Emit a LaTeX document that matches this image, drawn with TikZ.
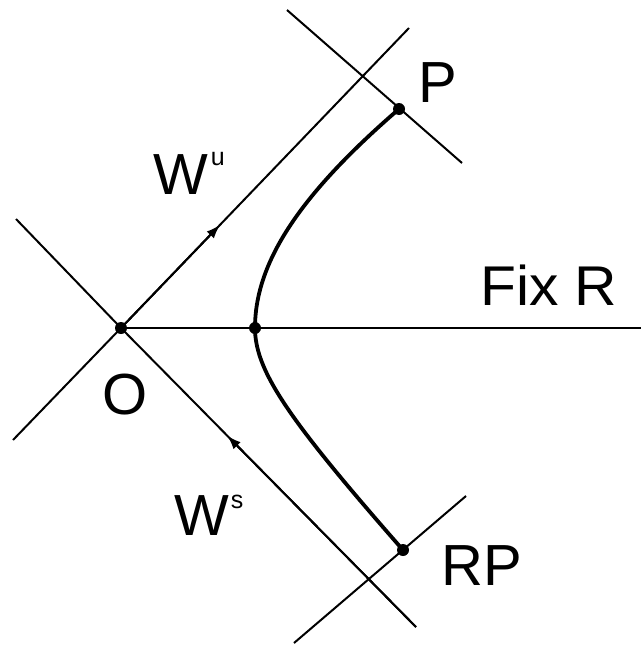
\documentclass[tikz,border=0pt]{standalone}
\usepackage{fontspec}
\setmainfont{Liberation Sans}
\usetikzlibrary{arrows.meta,calc}
\begin{document}
\begin{tikzpicture}[x=1pt,y=-1pt,
  thinline/.style={line width=2pt},
  curveline/.style={line width=3.8pt},
  dotmark/.style={circle,fill=black,inner sep=0pt,minimum size=12pt},
  flowarrow/.style={line width=2pt,-{Latex[length=14pt,width=10pt]}},
  lab/.style={anchor=base west,inner sep=0pt,font=\fontsize{58}{60}\selectfont}]
\useasboundingbox (0,0) rectangle (641,645);
% points
\coordinate (O) at (121,328);
\coordinate (V) at (255,328);
\coordinate (P) at (399,109);
\coordinate (RP) at (403,550);
% line ends
\coordinate (s1) at (16,219);
\coordinate (s2) at (416,627);
\coordinate (u1) at (13,440);
\coordinate (u2) at (409,28);
\coordinate (f2) at (641,328);
\coordinate (t1) at (287,10);
\coordinate (t2) at (462,163);
\coordinate (b1) at (466,496);
\coordinate (b2) at (294,643);
% lines
\draw[thinline] (s1) -- (O) -- (s2);
\draw[thinline] (u1) -- (O) -- (u2);
\draw[thinline] (O) -- (f2);
\draw[thinline] (t1) -- (t2);
\draw[thinline] (b1) -- (b2);
% flow arrows
\draw[flowarrow] (O) -- ($(O)!0.344!(u2)$);
\draw[flowarrow] (s2) -- ($(O)!0.36!(s2)$);
% curve
\draw[curveline,line join=round]
  plot[domain=2.19:0,samples=60,variable=\t]
    ({255+100*(-4.61+sqrt(21.2521+3.2*\t*\t))},{328-100*\t})
  -- plot[domain=0:2.22,samples=60,variable=\t]
    ({255+100*(-0.689+sqrt(0.4747+0.858*\t*\t))},{328+100*\t});
% dots
\node[dotmark] (nO) at (O) {};
\node[dotmark] (nV) at (V) {};
\node[dotmark] (nP) at (P) {};
\node[dotmark] (nRP) at (RP) {};
% labels
\node[lab] (lP) at (418,102) {P};
\node[lab] (lRP) at (441,585) {RP};
\node[lab] (lO) at (102,414) {O};
\node[lab] (lWu) at (153,194) {W\hspace{3pt}\raisebox{29pt}{\fontsize{25}{25}\selectfont u}};
\node[lab] (lWs) at (174,535) {W\hspace{2pt}\raisebox{27pt}{\fontsize{25}{25}\selectfont s}};
\node[anchor=base west,inner sep=0pt] (lFix) at (480,305) {\scalebox{1.05}[1]{\fontsize{56}{58}\selectfont Fix R}};
\end{tikzpicture}
\end{document}
